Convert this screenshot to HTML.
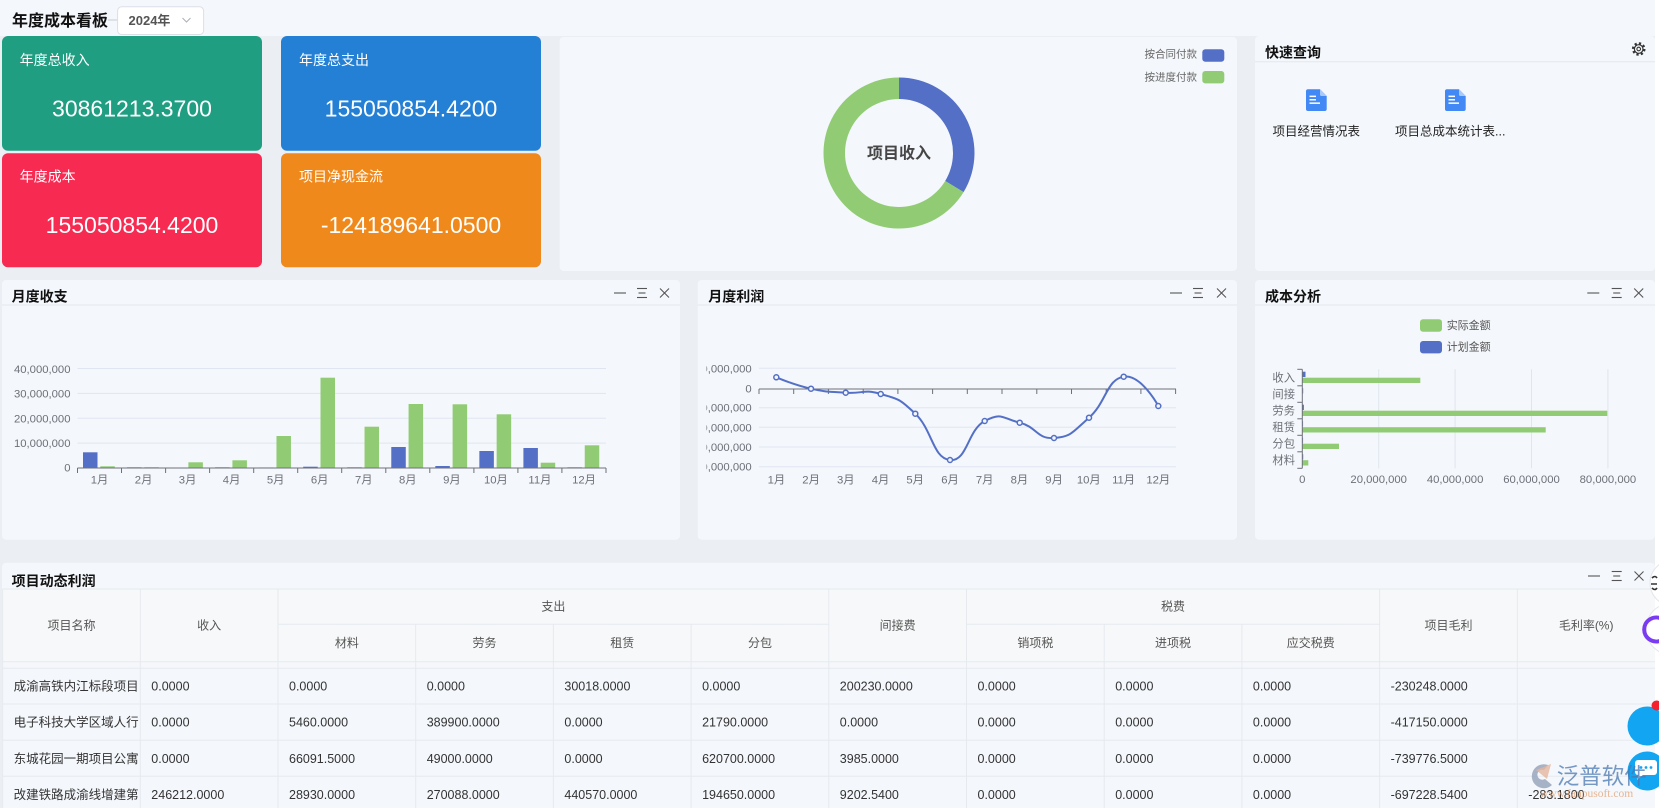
<!DOCTYPE html>
<html><head><meta charset="utf-8"><style>
html,body{margin:0;padding:0;width:1659px;height:808px;overflow:hidden;background:#ebeef3;}
svg{display:block;}
</style></head><body>
<svg width="1659" height="808" viewBox="0 0 1659 808" xmlns="http://www.w3.org/2000/svg" font-family="'Liberation Sans','Noto Sans CJK SC',sans-serif">
<defs>
<clipPath id="ylc"><rect x="706.5" y="340" width="60" height="150"/></clipPath>
</defs>
<!-- backgrounds -->
<rect x="0" y="0" width="1659" height="808" fill="#ebeef3"/>
<rect x="0" y="0" width="1655" height="36" fill="#f4f7fb"/>
<rect x="1655" y="0" width="4" height="808" fill="#ffffff"/>

<!-- header -->
<text x="12" y="26" font-size="16" font-weight="bold" fill="#111">年度成本看板</text>
<line x1="108" y1="20" x2="117.6" y2="20" stroke="#c8ccd2" stroke-width="1"/>
<rect x="117.6" y="6.8" width="86" height="27.7" rx="4" fill="#fff" stroke="#dcdfe6"/>
<text x="128.5" y="25" font-size="13" font-weight="bold" fill="#555">2024年</text>
<polyline points="182.5,18 186.5,22 190.5,18" fill="none" stroke="#aab0b8" stroke-width="1"/>

<!-- cards -->
<rect x="2" y="36" width="260" height="114.7" rx="6" fill="#1f9e82"/>
<rect x="281" y="36" width="260" height="114.7" rx="6" fill="#2380d4"/>
<rect x="2" y="153.3" width="260" height="114" rx="6" fill="#f72a52"/>
<rect x="281" y="153.3" width="260" height="114" rx="6" fill="#f0891c"/>
<g fill="#fff">
<text x="19.6" y="65" font-size="14">年度总收入</text>
<text x="299" y="65" font-size="14">年度总支出</text>
<text x="19.6" y="181.7" font-size="14">年度成本</text>
<text x="299" y="181.7" font-size="14">项目净现金流</text>
<text x="132" y="116.3" font-size="23" text-anchor="middle">30861213.3700</text>
<text x="411" y="116.3" font-size="23" text-anchor="middle">155050854.4200</text>
<text x="132" y="233" font-size="23" text-anchor="middle">155050854.4200</text>
<text x="411" y="233" font-size="23" text-anchor="middle">-124189641.0500</text>
</g>

<!-- donut panel -->
<rect x="559.6" y="37" width="677.4" height="234" rx="4" fill="#f4f7fb"/>
<path d="M 899 77.5 A 75.5 75.5 0 0 1 963.58 192.11 L 945.19 180.97 A 54 54 0 0 0 899 99 Z" fill="#5470c6"/>
<path d="M 963.58 192.11 A 75.5 75.5 0 1 1 899 77.5 L 899 99 A 54 54 0 1 0 945.19 180.97 Z" fill="#91cc75"/>
<text x="899" y="158.5" font-size="16" font-weight="bold" fill="#464646" text-anchor="middle">项目收入</text>
<text x="1197" y="57.7" font-size="10.5" fill="#666" text-anchor="end">按合同付款</text>
<text x="1197" y="80.4" font-size="10.5" fill="#666" text-anchor="end">按进度付款</text>
<rect x="1202.3" y="49.3" width="22" height="12.4" rx="3" fill="#5470c6"/>
<rect x="1202.3" y="71" width="22" height="12.4" rx="3" fill="#91cc75"/>

<!-- quick query panel -->
<rect x="1255" y="36" width="400" height="235" rx="4" fill="#f4f7fb"/>
<text x="1265" y="57.7" font-size="14" font-weight="bold" fill="#111">快速查询</text>
<line x1="1255" y1="61.7" x2="1655" y2="61.7" stroke="#e3e7ed"/>
<g transform="translate(1638.7,49)" fill="none" stroke="#333">
<circle r="5.6" stroke-width="2.4" stroke-dasharray="2.2 2.2"/>
<circle r="4.3" stroke-width="1.2"/>
<circle r="1.8" stroke-width="1.1"/>
</g>
<g transform="translate(1306,89.3)">
<path d="M2 0 H14 L20.7 6.7 V19.7 A2 2 0 0 1 18.7 21.7 H2 A2 2 0 0 1 0 19.7 V2 A2 2 0 0 1 2 0 Z" fill="#4289f5"/>
<path d="M14 0 L20.7 6.7 H15.5 A1.5 1.5 0 0 1 14 5.2 Z" fill="#a9c9fb"/>
<rect x="3.5" y="6.3" width="6.5" height="1.5" fill="#fff"/>
<rect x="3.5" y="9.7" width="6.5" height="1.5" fill="#fff"/>
<rect x="3.5" y="13.1" width="10.5" height="1.5" fill="#fff"/>
</g>
<g transform="translate(1445,89.3)">
<path d="M2 0 H14 L20.7 6.7 V19.7 A2 2 0 0 1 18.7 21.7 H2 A2 2 0 0 1 0 19.7 V2 A2 2 0 0 1 2 0 Z" fill="#4289f5"/>
<path d="M14 0 L20.7 6.7 H15.5 A1.5 1.5 0 0 1 14 5.2 Z" fill="#a9c9fb"/>
<rect x="3.5" y="6.3" width="6.5" height="1.5" fill="#fff"/>
<rect x="3.5" y="9.7" width="6.5" height="1.5" fill="#fff"/>
<rect x="3.5" y="13.1" width="10.5" height="1.5" fill="#fff"/>
</g>
<text x="1316.2" y="135.5" font-size="12.5" fill="#222" text-anchor="middle">项目经营情况表</text>
<text x="1395" y="135.5" font-size="12.5" fill="#222">项目总成本统计表...</text>

<!-- row 2 panels -->
<rect x="2" y="280" width="678" height="259.7" rx="4" fill="#f4f7fb"/>
<rect x="697.7" y="280" width="539.3" height="259.7" rx="4" fill="#f4f7fb"/>
<rect x="1255" y="280" width="400" height="259.7" rx="4" fill="#f4f7fb"/>
<g stroke="#e3e7ed">
<line x1="2" y1="305" x2="680" y2="305"/>
<line x1="697.7" y1="305" x2="1237" y2="305"/>
<line x1="1255" y1="305" x2="1655" y2="305"/>
</g>
<g font-size="14" font-weight="bold" fill="#111">
<text x="11.6" y="301.7">月度收支</text>
<text x="708.3" y="301.7">月度利润</text>
<text x="1265" y="301.7">成本分析</text>
</g>
<!-- panel icons -->
<g stroke="#555" stroke-width="1.1" fill="none">
<line x1="614" y1="293" x2="626" y2="293"/>
<line x1="637" y1="288.5" x2="647" y2="288.5"/><line x1="638.5" y1="293" x2="645.5" y2="293"/><line x1="637" y1="297.5" x2="647" y2="297.5"/>
<line x1="660" y1="288.5" x2="669" y2="297.5"/><line x1="669" y1="288.5" x2="660" y2="297.5"/>

<line x1="1170" y1="293" x2="1182" y2="293"/>
<line x1="1193" y1="288.5" x2="1203" y2="288.5"/><line x1="1194.5" y1="293" x2="1201.5" y2="293"/><line x1="1193" y1="297.5" x2="1203" y2="297.5"/>
<line x1="1217" y1="288.5" x2="1226" y2="297.5"/><line x1="1226" y1="288.5" x2="1217" y2="297.5"/>

<line x1="1587.3" y1="293" x2="1599.3" y2="293"/>
<line x1="1611.7" y1="288.5" x2="1621.7" y2="288.5"/><line x1="1613.2" y1="293" x2="1620.2" y2="293"/><line x1="1611.7" y1="297.5" x2="1621.7" y2="297.5"/>
<line x1="1634.2" y1="288.5" x2="1643.2" y2="297.5"/><line x1="1643.2" y1="288.5" x2="1634.2" y2="297.5"/>
</g>

<!-- bar chart -->
<g stroke="#e0e6f1" stroke-width="1">
<line x1="77.5" y1="368.5" x2="606" y2="368.5"/>
<line x1="77.5" y1="393.4" x2="606" y2="393.4"/>
<line x1="77.5" y1="418.3" x2="606" y2="418.3"/>
<line x1="77.5" y1="443.1" x2="606" y2="443.1"/>
</g>
<g font-size="11.3" fill="#6e7079" text-anchor="end">
<text x="70.5" y="373">40,000,000</text>
<text x="70.5" y="397.7">30,000,000</text>
<text x="70.5" y="422.3">20,000,000</text>
<text x="70.5" y="447">10,000,000</text>
<text x="70.5" y="471.7">0</text>
</g>
<g fill="#5470c6">
<rect x="83" y="452.3" width="14.5" height="15.7"/>
<rect x="127.04" y="467" width="14.5" height="1" opacity="0.4"/>
<rect x="215.12" y="467" width="14.5" height="1" opacity="0.4"/>
<rect x="259.16" y="467.4" width="14.5" height="0.6" opacity="0.3"/>
<rect x="303.2" y="466.7" width="14.5" height="1.3"/>
<rect x="347.24" y="467" width="14.5" height="1" opacity="0.4"/>
<rect x="391.28" y="447" width="14.5" height="21"/>
<rect x="435.32" y="466" width="14.5" height="2"/>
<rect x="479.36" y="451" width="14.5" height="17"/>
<rect x="523.4" y="448" width="14.5" height="20"/>
<rect x="567.44" y="467" width="14.5" height="1" opacity="0.4"/>
</g>
<g fill="#91cc75">
<rect x="100.3" y="466.3" width="14.5" height="1.7"/>
<rect x="144.34" y="467" width="14.5" height="1" opacity="0.6"/>
<rect x="188.38" y="462.3" width="14.5" height="5.7"/>
<rect x="232.42" y="460.3" width="14.5" height="7.7"/>
<rect x="276.46" y="436" width="14.5" height="32"/>
<rect x="320.5" y="377.7" width="14.5" height="90.3"/>
<rect x="364.54" y="426.7" width="14.5" height="41.3"/>
<rect x="408.58" y="404" width="14.5" height="64"/>
<rect x="452.62" y="404.3" width="14.5" height="63.7"/>
<rect x="496.66" y="414.3" width="14.5" height="53.7"/>
<rect x="540.7" y="462.7" width="14.5" height="5.3"/>
<rect x="584.74" y="445.3" width="14.5" height="22.7"/>
</g>
<g stroke="#6e7079" stroke-width="1">
<line x1="77.5" y1="468" x2="606" y2="468"/>
<line x1="77.5" y1="468" x2="77.5" y2="473"/><line x1="121.5" y1="468" x2="121.5" y2="473"/><line x1="165.6" y1="468" x2="165.6" y2="473"/><line x1="209.6" y1="468" x2="209.6" y2="473"/><line x1="253.7" y1="468" x2="253.7" y2="473"/><line x1="297.7" y1="468" x2="297.7" y2="473"/><line x1="341.7" y1="468" x2="341.7" y2="473"/><line x1="385.8" y1="468" x2="385.8" y2="473"/><line x1="429.8" y1="468" x2="429.8" y2="473"/><line x1="473.9" y1="468" x2="473.9" y2="473"/><line x1="517.9" y1="468" x2="517.9" y2="473"/><line x1="561.9" y1="468" x2="561.9" y2="473"/><line x1="606" y1="468" x2="606" y2="473"/>
</g>
<g font-size="11.3" fill="#6e7079" text-anchor="middle">
<text x="99.5" y="483.3">1月</text><text x="143.6" y="483.3">2月</text><text x="187.6" y="483.3">3月</text><text x="231.6" y="483.3">4月</text><text x="275.7" y="483.3">5月</text><text x="319.7" y="483.3">6月</text><text x="363.8" y="483.3">7月</text><text x="407.8" y="483.3">8月</text><text x="451.9" y="483.3">9月</text><text x="495.9" y="483.3">10月</text><text x="539.9" y="483.3">11月</text><text x="584" y="483.3">12月</text>
</g>

<!-- line chart -->
<g stroke="#e0e6f1" stroke-width="1">
<line x1="759" y1="368.3" x2="1176" y2="368.3"/>
<line x1="759" y1="407.7" x2="1176" y2="407.7"/>
<line x1="759" y1="427.3" x2="1176" y2="427.3"/>
<line x1="759" y1="447" x2="1176" y2="447"/>
<line x1="759" y1="466.7" x2="1176" y2="466.7"/>
</g>
<g font-size="11.3" fill="#6e7079" text-anchor="end" clip-path="url(#ylc)">
<text x="751.7" y="372.3">10,000,000</text>
<text x="751.7" y="392.3">0</text>
<text x="751.7" y="411.7">-10,000,000</text>
<text x="751.7" y="431.3">-20,000,000</text>
<text x="751.7" y="451">-30,000,000</text>
<text x="751.7" y="470.7">-40,000,000</text>
</g>
<g stroke="#6e7079" stroke-width="1">
<line x1="759" y1="389" x2="1176" y2="389"/>
<line x1="759" y1="389" x2="759" y2="394"/><line x1="793.7" y1="389" x2="793.7" y2="394"/><line x1="828.4" y1="389" x2="828.4" y2="394"/><line x1="863.2" y1="389" x2="863.2" y2="394"/><line x1="897.9" y1="389" x2="897.9" y2="394"/><line x1="932.6" y1="389" x2="932.6" y2="394"/><line x1="967.3" y1="389" x2="967.3" y2="394"/><line x1="1002" y1="389" x2="1002" y2="394"/><line x1="1036.8" y1="389" x2="1036.8" y2="394"/><line x1="1071.5" y1="389" x2="1071.5" y2="394"/><line x1="1106.2" y1="389" x2="1106.2" y2="394"/><line x1="1140.9" y1="389" x2="1140.9" y2="394"/><line x1="1175.6" y1="389" x2="1175.6" y2="394"/>
</g>
<g font-size="11.3" fill="#6e7079" text-anchor="middle">
<text x="776.4" y="483.3">1月</text><text x="811.1" y="483.3">2月</text><text x="845.8" y="483.3">3月</text><text x="880.5" y="483.3">4月</text><text x="915.2" y="483.3">5月</text><text x="950" y="483.3">6月</text><text x="984.7" y="483.3">7月</text><text x="1019.4" y="483.3">8月</text><text x="1054.1" y="483.3">9月</text><text x="1088.8" y="483.3">10月</text><text x="1123.6" y="483.3">11月</text><text x="1158.3" y="483.3">12月</text>
</g>
<path d="M776.3 377.3 C776.3 377.3 793.65 384.85 811 388.7 C828.35 392.55 828.27 391.37 845.7 392.7 C863.13 394.03 863.3 388.75 880.7 394 C898.1 399.25 897.97 397.2 915.3 413.7 C932.63 430.2 932.65 458.17 950 460 C967.35 461.83 967.27 430.33 984.7 421 C1002.13 411.67 1002.37 418.45 1019.7 422.7 C1037.03 426.95 1036.67 439.25 1054 438 C1071.33 436.75 1071.57 433.03 1089 417.7 C1106.43 402.37 1106.37 379.63 1123.7 376.7 C1141.03 373.77 1158.3 406 1158.3 406" fill="none" stroke="#5470c6" stroke-width="2"/>
<g fill="#f4f7fb" stroke="#5470c6" stroke-width="1.5">
<circle cx="776.3" cy="377.3" r="2.5"/><circle cx="811" cy="388.7" r="2.5"/><circle cx="845.7" cy="392.7" r="2.5"/><circle cx="880.7" cy="394" r="2.5"/><circle cx="915.3" cy="413.7" r="2.5"/><circle cx="950" cy="460" r="2.5"/><circle cx="984.7" cy="421" r="2.5"/><circle cx="1019.7" cy="422.7" r="2.5"/><circle cx="1054" cy="438" r="2.5"/><circle cx="1089" cy="417.7" r="2.5"/><circle cx="1123.7" cy="376.7" r="2.5"/><circle cx="1158.3" cy="406" r="2.5"/>
</g>

<!-- cost analysis -->
<rect x="1420" y="319.3" width="22" height="12.4" rx="3" fill="#91cc75"/>
<rect x="1420" y="341" width="22" height="12.4" rx="3" fill="#5470c6"/>
<text x="1446.7" y="329" font-size="11" fill="#555">实际金额</text>
<text x="1446.7" y="350.7" font-size="11" fill="#555">计划金额</text>
<g stroke="#e0e6f1" stroke-width="1">
<line x1="1378.7" y1="369.3" x2="1378.7" y2="468.3"/>
<line x1="1455.1" y1="369.3" x2="1455.1" y2="468.3"/>
<line x1="1531.5" y1="369.3" x2="1531.5" y2="468.3"/>
<line x1="1607.9" y1="369.3" x2="1607.9" y2="468.3"/>
</g>
<g fill="#91cc75">
<rect x="1302.3" y="377.7" width="118" height="5.3"/>
<rect x="1302.3" y="410.7" width="305" height="5.3"/>
<rect x="1302.3" y="427.2" width="243.4" height="5.3"/>
<rect x="1302.3" y="443.7" width="36.7" height="5.3"/>
<rect x="1302.3" y="460.2" width="6" height="5.3"/>
</g>
<g fill="#5470c6">
<rect x="1302.3" y="371.7" width="3.2" height="5.3"/>
<rect x="1302.3" y="388.2" width="1" height="5.3" opacity="0.6"/>
<rect x="1302.3" y="404.7" width="1.6" height="5.3"/>
<rect x="1302.3" y="421.2" width="0.8" height="5.3" opacity="0.6"/>
<rect x="1302.3" y="437.7" width="0.8" height="5.3" opacity="0.6"/>
<rect x="1302.3" y="454.2" width="1" height="5.3" opacity="0.7"/>
</g>
<g stroke="#6e7079" stroke-width="1">
<line x1="1302.3" y1="369.3" x2="1302.3" y2="468.3"/>
<line x1="1297.3" y1="369.3" x2="1302.3" y2="369.3"/><line x1="1297.3" y1="385.8" x2="1302.3" y2="385.8"/><line x1="1297.3" y1="402.3" x2="1302.3" y2="402.3"/><line x1="1297.3" y1="418.8" x2="1302.3" y2="418.8"/><line x1="1297.3" y1="435.3" x2="1302.3" y2="435.3"/><line x1="1297.3" y1="451.8" x2="1302.3" y2="451.8"/><line x1="1297.3" y1="468.3" x2="1302.3" y2="468.3"/>
</g>
<g font-size="11.3" fill="#6e7079" text-anchor="end">
<text x="1295" y="381.5">收入</text><text x="1295" y="398">间接</text><text x="1295" y="414.5">劳务</text><text x="1295" y="431">租赁</text><text x="1295" y="447.5">分包</text><text x="1295" y="464">材料</text>
</g>
<g font-size="11.3" fill="#6e7079" text-anchor="middle">
<text x="1302.3" y="483">0</text><text x="1378.7" y="483">20,000,000</text><text x="1455.1" y="483">40,000,000</text><text x="1531.5" y="483">60,000,000</text><text x="1607.9" y="483">80,000,000</text>
</g>

<!-- table panel -->
<rect x="2" y="562.7" width="1653" height="250" rx="4" fill="#f4f7fb"/>
<text x="11.6" y="586" font-size="14" font-weight="bold" fill="#111">项目动态利润</text>
<g stroke="#555" stroke-width="1.1" fill="none">
<line x1="1588" y1="576" x2="1600" y2="576"/>
<line x1="1611.7" y1="571.5" x2="1621.7" y2="571.5"/><line x1="1613.2" y1="576" x2="1620.2" y2="576"/><line x1="1611.7" y1="580.5" x2="1621.7" y2="580.5"/>
<line x1="1634.5" y1="571.5" x2="1643.5" y2="580.5"/><line x1="1643.5" y1="571.5" x2="1634.5" y2="580.5"/>
</g>
<rect x="2.6" y="589" width="1652.4" height="72.7" fill="#f7f8f9"/>
<rect x="2.6" y="661.7" width="1652.4" height="6.6" fill="#f5f7fa"/>
<g stroke="#e6eaef" stroke-width="1">
<line x1="2.6" y1="589" x2="1655" y2="589"/>
<line x1="278" y1="624.3" x2="828.8" y2="624.3"/>
<line x1="966.5" y1="624.3" x2="1379.6" y2="624.3"/>
<line x1="2.6" y1="661.7" x2="1655" y2="661.7"/>
<line x1="2.6" y1="668.3" x2="1655" y2="668.3"/>
<line x1="2.6" y1="704" x2="1655" y2="704"/>
<line x1="2.6" y1="740.3" x2="1655" y2="740.3"/>
<line x1="2.6" y1="776.3" x2="1655" y2="776.3"/>
<line x1="2.6" y1="589" x2="2.6" y2="808"/>
<line x1="140.3" y1="589" x2="140.3" y2="808"/>
<line x1="278" y1="589" x2="278" y2="808"/>
<line x1="415.7" y1="624.3" x2="415.7" y2="808"/>
<line x1="553.4" y1="624.3" x2="553.4" y2="808"/>
<line x1="691.1" y1="624.3" x2="691.1" y2="808"/>
<line x1="828.8" y1="589" x2="828.8" y2="808"/>
<line x1="966.5" y1="589" x2="966.5" y2="808"/>
<line x1="1104.2" y1="624.3" x2="1104.2" y2="808"/>
<line x1="1241.9" y1="624.3" x2="1241.9" y2="808"/>
<line x1="1379.6" y1="589" x2="1379.6" y2="808"/>
<line x1="1517.3" y1="589" x2="1517.3" y2="808"/>
</g>
<g font-size="12" fill="#555" text-anchor="middle">
<text x="71.45" y="629.4">项目名称</text>
<text x="209.15" y="629.4">收入</text>
<text x="553.4" y="610.6">支出</text>
<text x="346.85" y="647">材料</text>
<text x="484.55" y="647">劳务</text>
<text x="622.25" y="647">租赁</text>
<text x="759.95" y="647">分包</text>
<text x="897.65" y="629.4">间接费</text>
<text x="1173.05" y="610.6">税费</text>
<text x="1035.35" y="647">销项税</text>
<text x="1173.05" y="647">进项税</text>
<text x="1310.75" y="647">应交税费</text>
<text x="1448.45" y="629.4">项目毛利</text>
<text x="1586.15" y="629.4">毛利率(%)</text>
</g>
<g font-size="12.5" fill="#333">
<text x="13.6" y="690.7">成渝高铁内江标段项目</text><text x="151.3" y="690.7">0.0000</text><text x="289" y="690.7">0.0000</text><text x="426.7" y="690.7">0.0000</text><text x="564.4" y="690.7">30018.0000</text><text x="702.1" y="690.7">0.0000</text><text x="839.8" y="690.7">200230.0000</text><text x="977.5" y="690.7">0.0000</text><text x="1115.2" y="690.7">0.0000</text><text x="1252.9" y="690.7">0.0000</text><text x="1390.6" y="690.7">-230248.0000</text>
<text x="13.6" y="726.7">电子科技大学区域人行</text><text x="151.3" y="726.7">0.0000</text><text x="289" y="726.7">5460.0000</text><text x="426.7" y="726.7">389900.0000</text><text x="564.4" y="726.7">0.0000</text><text x="702.1" y="726.7">21790.0000</text><text x="839.8" y="726.7">0.0000</text><text x="977.5" y="726.7">0.0000</text><text x="1115.2" y="726.7">0.0000</text><text x="1252.9" y="726.7">0.0000</text><text x="1390.6" y="726.7">-417150.0000</text>
<text x="13.6" y="762.8">东城花园一期项目公寓</text><text x="151.3" y="762.8">0.0000</text><text x="289" y="762.8">66091.5000</text><text x="426.7" y="762.8">49000.0000</text><text x="564.4" y="762.8">0.0000</text><text x="702.1" y="762.8">620700.0000</text><text x="839.8" y="762.8">3985.0000</text><text x="977.5" y="762.8">0.0000</text><text x="1115.2" y="762.8">0.0000</text><text x="1252.9" y="762.8">0.0000</text><text x="1390.6" y="762.8">-739776.5000</text>
<text x="13.6" y="798.8">改建铁路成渝线增建第</text><text x="151.3" y="798.8">246212.0000</text><text x="289" y="798.8">28930.0000</text><text x="426.7" y="798.8">270088.0000</text><text x="564.4" y="798.8">440570.0000</text><text x="702.1" y="798.8">194650.0000</text><text x="839.8" y="798.8">9202.5400</text><text x="977.5" y="798.8">0.0000</text><text x="1115.2" y="798.8">0.0000</text><text x="1252.9" y="798.8">0.0000</text><text x="1390.6" y="798.8">-697228.5400</text><text x="1528.3" y="798.8">-283.1800</text>
</g>

<!-- floating widgets -->
<circle cx="1673" cy="583" r="23" fill="#ffffff" stroke="#e4e6ea" stroke-width="1"/>
<path d="M1652 578 q3 -3 5 0 M1651 584 h6 M1652 588 q3 3 5 0" fill="none" stroke="#333" stroke-width="1.6"/>
<circle cx="1672" cy="629" r="26" fill="#ffffff" stroke="#e4e6ea" stroke-width="1"/>
<path d="M1662 619 A 12 12 0 1 0 1662 640" fill="none" stroke="#7a3cf0" stroke-width="4"/>
<circle cx="1647" cy="726" r="19.5" fill="#12a5f2"/>
<circle cx="1656.5" cy="705.5" r="5" fill="#f5222d"/>
<circle cx="1647" cy="771" r="19.5" fill="#12a5f2"/>
<rect x="1635" y="760" width="22" height="15" rx="3" fill="#fff"/>
<path d="M1639 774 L1637 780 L1644 774 Z" fill="#fff"/>
<circle cx="1641" cy="767.5" r="1.4" fill="#12a5f2"/><circle cx="1646" cy="767.5" r="1.4" fill="#12a5f2"/><circle cx="1651" cy="767.5" r="1.4" fill="#12a5f2"/>

<!-- watermark -->
<g opacity="0.75">
<path d="M1548 765 A 12 12 0 1 0 1552 785 L1545 779 A 5 5 0 1 1 1544 770 Z" fill="#8c9bb3"/>
<path d="M1536 770 L1551 764 L1547 779 Z" fill="#e0a080" opacity="0.8"/>
<text x="1556.7" y="784" font-size="22.5" fill="#4a78b2" font-family="'Noto Sans CJK SC',sans-serif">泛普软件</text>
<text x="1540" y="797" font-size="11.5" fill="#e3a070" font-family="'Liberation Serif',serif">www.fanpusoft.com</text>
</g>
</svg>
</body></html>
